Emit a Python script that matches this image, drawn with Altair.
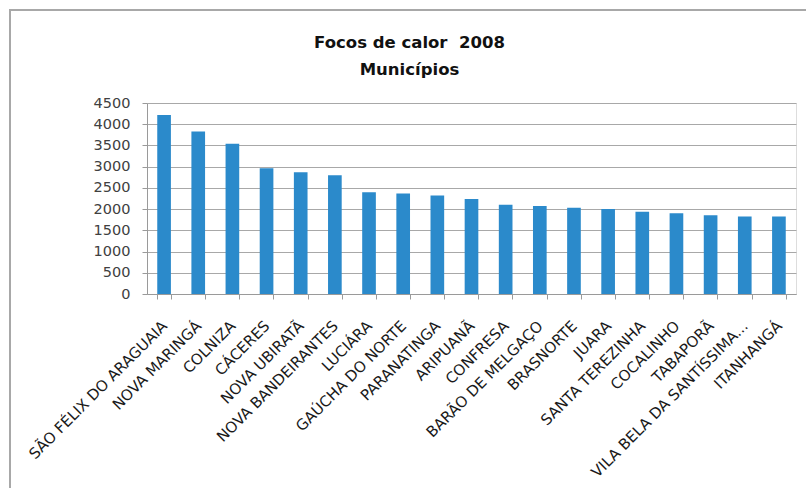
import altair as alt
import pandas as pd

# Municípios com mais focos de calor em 2008
municipios = [
    "SÃO FÉLIX DO ARAGUAIA", "NOVA MARINGÁ", "COLNIZA", "CÁCERES",
    "NOVA UBIRATÃ", "NOVA BANDEIRANTES", "LUCIÁRA", "GAÚCHA DO NORTE",
    "PARANATINGA", "ARIPUANÃ", "CONFRESA", "BARÃO DE MELGAÇO",
    "BRASNORTE", "JUARA", "SANTA TEREZINHA", "COCALINHO", "TABAPORÃ",
    "VILA BELA DA SANTÍSSIMA...", "ITANHANGÁ",
]
focos = [4220, 3830, 3540, 2960, 2870, 2800, 2400, 2370, 2320,
         2240, 2100, 2075, 2035, 2005, 1940, 1900, 1855, 1825, 1825]

df = pd.DataFrame({"municipio": municipios, "focos": focos})

FONT = "DejaVu Sans"
W, H = 649, 191
LEFT, TOP = 147, 103

bars = alt.Chart(df).mark_bar(color="#2B8ACB").encode(
    x=alt.X(
        "municipio:N",
        sort=municipios,
        title=None,
        scale=alt.Scale(paddingInner=0.6, paddingOuter=0.3),
        axis=alt.Axis(
            labelAngle=-45,
            labelAlign="right",
            labelBaseline="middle",
            labelFont=FONT,
            labelFontSize=15,
            labelColor="#1a1a1a",
            labelPadding=24,
            labelLimit=400,
            tickBand="extent",
            tickSize=5,
            tickColor="#9a9a9a",
            domainColor="#9a9a9a",
            labelOverlap=False,
        ),
    ),
    y=alt.Y(
        "focos:Q",
        title=None,
        scale=alt.Scale(domain=[0, 4500], nice=False),
        axis=alt.Axis(
            values=list(range(0, 4501, 500)),
            format="d",
            labelFont=FONT,
            labelFontSize=14.5,
            labelColor="#404040",
            labelPadding=12,
            tickSize=5,
            tickColor="#9a9a9a",
            domainColor="#9a9a9a",
            gridColor="#a8a8a8",
            gridWidth=1,
        ),
    ),
)

# moldura da área do gráfico
frame = alt.Chart(alt.Data(values=[{}])).mark_rect(
    fill="transparent", stroke="#a8a8a8", strokeWidth=2
).encode(
    x=alt.value(-LEFT + 10),
    x2=alt.value(W + 30),
    y=alt.value(-TOP + 10),
    y2=alt.value(H + 250),
)

chart = alt.layer(frame, bars).properties(
    width=W,
    height=H,
    title=alt.TitleParams(
        text=["Focos de calor\u00a0\u00a02008", "Municípios"],
        font=FONT,
        fontSize=16.5,
        fontWeight="bold",
        color="#111111",
        anchor="middle",
        frame="group",
        dx=-62,
        baseline="bottom",
        lineHeight=27,
        offset=-85,
    ),
    autosize=alt.AutoSizeParams(type="none"),
    padding={"left": LEFT, "top": TOP, "right": 806 - LEFT - W,
             "bottom": 488 - TOP - H},
).configure_view(stroke=None).configure(background="white")

chart.save("out.html", embed_options={"renderer": "svg", "actions": False})
